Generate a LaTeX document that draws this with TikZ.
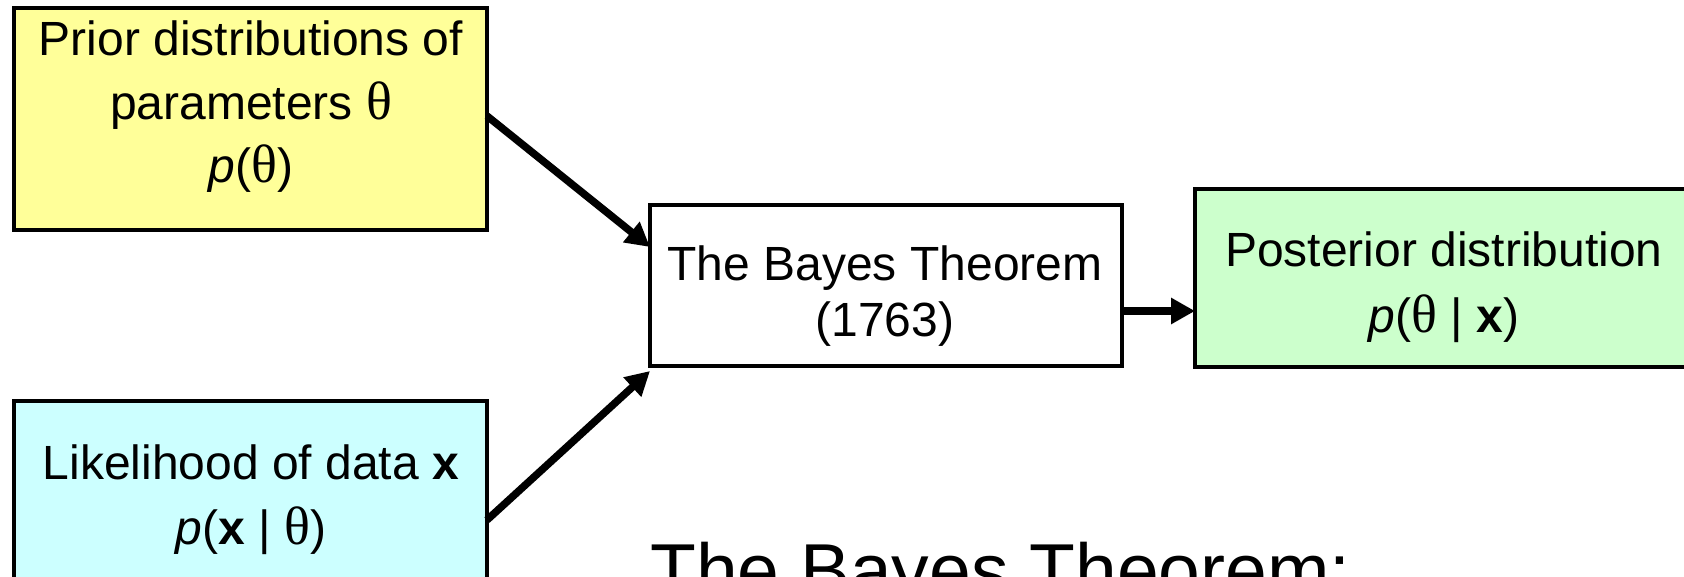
\documentclass[tikz,border=0pt]{standalone}
\usepackage{fontspec}
\setmainfont{Liberation Sans}
\newfontfamily\grkfont{Liberation Serif}
\newcommand{\mytheta}{{\grkfont\fontsize{54}{56}\selectfont θ}}
\usetikzlibrary{arrows.meta}
\definecolor{prioryellow}{HTML}{FFFF99}
\definecolor{likecyan}{HTML}{CCFFFF}
\definecolor{postgreen}{HTML}{CCFFCC}
\begin{document}
\begin{tikzpicture}[x=1pt,y=-1pt,
  box/.style={draw=black, line width=3.5pt, rectangle, inner sep=0pt, outer sep=0pt, anchor=north west},
  lbl/.style={font=\fontsize{48}{56}\selectfont, inner sep=0pt, anchor=base},
  big/.style={font=\fontsize{75}{88}\selectfont, inner sep=0pt, anchor=base west},
  conn/.style={line width=7.5pt, -{Triangle[length=24pt,width=25pt]}}]
\useasboundingbox (0,0) rectangle (1684,577);
% boxes
\node[box, fill=prioryellow, minimum width=473pt, minimum height=222pt] (prior) at (14,8) {};
\node[box, fill=likecyan, minimum width=473pt, minimum height=250pt] (like) at (14,401) {};
\node[box, fill=white, minimum width=472pt, minimum height=161pt] (bayes) at (650,205) {};
\node[box, fill=postgreen, minimum width=520pt, minimum height=178pt] (post) at (1195,189) {};
% texts
\node[lbl] (prior1) at (251,56) {Prior distributions of};
\node[lbl] (prior2) at (251,120) {parameters \mytheta};
\node[lbl] (prior3) at (251,183) {\textit{p}(\mytheta)};
\node[lbl] (like1) at (251,479) {Likelihood of data \textbf{x}};
\node[lbl] (like2) at (251,544) {\textit{p}(\textbf{x} | \mytheta)};
\node[lbl] (bayes1) at (885,281) {The Bayes Theorem};
\node[lbl] (bayes2) at (885,337) {(1763)};
\node[lbl] (post1) at (1444,267) {Posterior distribution};
\node[lbl] (post2) at (1444,333) {\textit{p}(\mytheta{} | \textbf{x})};
\node[big] (title) at (650,596) {The Bayes Theorem:};
% connectors
\draw[conn] ([yshift=-108pt]prior.north east) -- ([yshift=-42pt]bayes.north west);
\draw[conn] ([yshift=-119pt]like.north east) -- ([yshift=-5pt]bayes.south west);
\draw[conn] ([yshift=-106pt]bayes.north east) -- ([yshift=-122pt]post.north west);
\end{tikzpicture}
\end{document}
